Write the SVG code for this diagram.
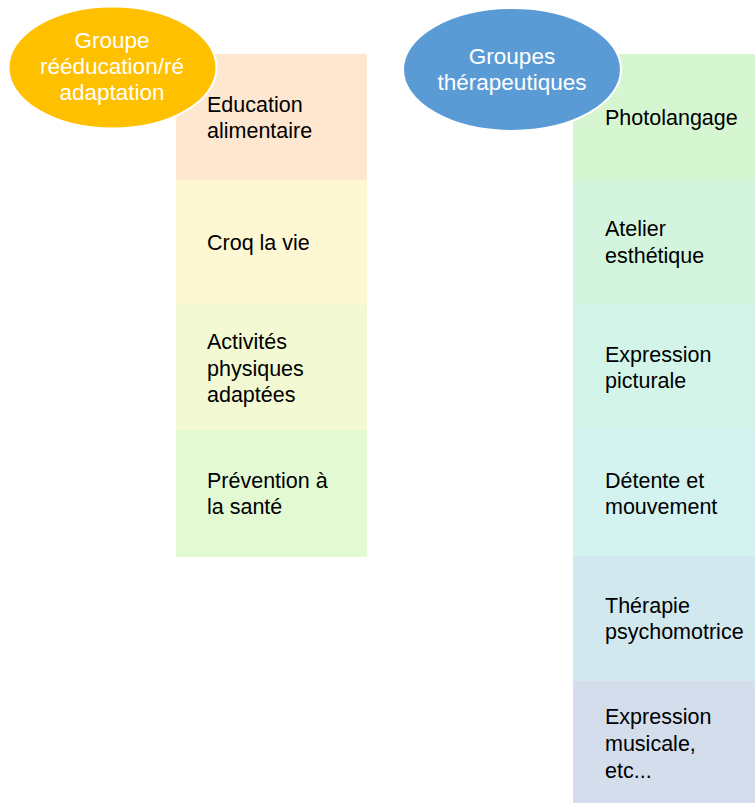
<svg xmlns="http://www.w3.org/2000/svg" width="755" height="803" viewBox="0 0 755 803">
<style>
.t{font-family:"Liberation Sans",Arial,sans-serif;font-size:21.5px;fill:#000}
.e{font-family:"Liberation Sans",Arial,sans-serif;font-size:22.5px;fill:#fff;text-anchor:middle}
.el{stroke:#fff;stroke-width:2}
</style>
<rect width="755" height="803" fill="#fff"/>
<g id="left-column">
<g id="n-education"><rect x="176" y="54" width="191" height="126" fill="#FDE7D0"/><text class="t" x="207"><tspan x="207" y="112">Education</tspan><tspan x="207" y="138">alimentaire</tspan></text></g>
<g id="n-croq"><rect x="176" y="180" width="191" height="125" fill="#FEF7D3"/><text class="t" x="207" y="250">Croq la vie</text></g>
<g id="n-activites"><rect x="176" y="305" width="191" height="125" fill="#F3FAD3"/><text class="t"><tspan x="207" y="349">Activités</tspan><tspan x="207" y="376">physiques</tspan><tspan x="207" y="402">adaptées</tspan></text></g>
<g id="n-prevention"><rect x="176" y="430" width="191" height="127" fill="#E3F9D4"/><text class="t"><tspan x="207" y="488">Prévention à</tspan><tspan x="207" y="514">la santé</tspan></text></g>
</g>
<g id="right-column">
<g id="n-photolangage"><rect x="573" y="54" width="182" height="126" fill="#D6F6D1"/><text class="t" x="605" y="125">Photolangage</text></g>
<g id="n-atelier"><rect x="573" y="180" width="182" height="125" fill="#D4F5DD"/><text class="t"><tspan x="605" y="236">Atelier</tspan><tspan x="605" y="263">esthétique</tspan></text></g>
<g id="n-expression-picturale"><rect x="573" y="305" width="182" height="125" fill="#D3F4E8"/><text class="t"><tspan x="605" y="362">Expression</tspan><tspan x="605" y="388">picturale</tspan></text></g>
<g id="n-detente"><rect x="573" y="430" width="182" height="126" fill="#D3F2F0"/><text class="t"><tspan x="605" y="488">Détente et</tspan><tspan x="605" y="514">mouvement</tspan></text></g>
<g id="n-therapie"><rect x="573" y="556" width="182" height="125" fill="#D2E8EF"/><text class="t"><tspan x="605" y="613">Thérapie</tspan><tspan x="605" y="639">psychomotrice</tspan></text></g>
<g id="n-musicale"><rect x="573" y="681" width="182" height="122" fill="#D3DDEC"/><text class="t"><tspan x="605" y="724">Expression</tspan><tspan x="605" y="751">musicale,</tspan><tspan x="605" y="778">etc...</tspan></text></g>
</g>
<g id="n-groupe-reeducation"><ellipse class="el" cx="112.5" cy="67.5" rx="104" ry="61" fill="#FFC000"/><text class="e"><tspan x="112" y="48">Groupe</tspan><tspan x="112" y="74">rééducation/ré</tspan><tspan x="112" y="100">adaptation</tspan></text></g>
<g id="n-groupes-therapeutiques"><ellipse class="el" cx="512" cy="69.5" rx="109" ry="61.5" fill="#5B9BD5"/><text class="e"><tspan x="512" y="64">Groupes</tspan><tspan x="512" y="90">thérapeutiques</tspan></text></g>
<g id="connectors"/>
</svg>
